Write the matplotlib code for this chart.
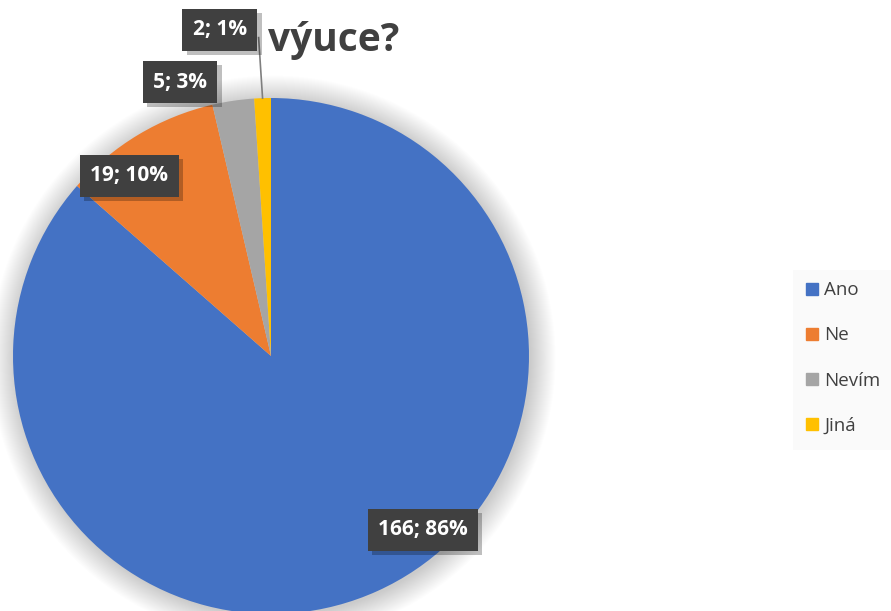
import numpy as np
import matplotlib
matplotlib.use("Agg")
import matplotlib.pyplot as plt
import matplotlib.patheffects as pe
from matplotlib.patches import Circle, Rectangle, Patch

categories = ["Ano", "Ne", "Nevím", "Jiná"]
counts = [166, 19, 5, 2]
percent_labels = ["86%", "10%", "3%", "1%"]
colors = ["#4472C4", "#ED7D31", "#A5A5A5", "#FFC000"]
title_text = "výuce?"

# label placement (x, y in pie-radius units) - layout only
label_pos = [(0.589, -0.674), (-0.550, 0.698), (-0.353, 1.062), (-0.198, 1.264)]

plt.rcParams['font.family'] = ['Open Sans', 'DejaVu Sans']

W, H = 891, 611
fig = plt.figure(figsize=(W / 100, H / 100), dpi=100)
fig.patch.set_facecolor("white")

cx, cy, r = 271, 356, 258
ax = fig.add_axes([(cx - r) / W, (H - cy - r) / H, 2 * r / W, 2 * r / H])
ax.axis("off")

# soft shadow
for k in range(26):
    ax.add_patch(Circle((0.008, -0.008), 1 + 0.0038 * k, color="black",
                        alpha=0.009, lw=0, zorder=0, clip_on=False))

wedges, _ = ax.pie(counts, colors=colors, startangle=90, counterclock=False,
                   radius=1, wedgeprops=dict(linewidth=0), frame=False)
for w in wedges:
    w.set_zorder(1)
ax.set_xlim(-1, 1)
ax.set_ylim(-1, 1)
ax.set_aspect("auto")

total = sum(counts)
angles = []
start = 90.0
for c in counts:
    sweep = c / total * 360
    angles.append(np.deg2rad(start - sweep / 2))
    start -= sweep

# leader line for the smallest slice
a = angles[3]
lx, ly = label_pos[3]
ax.plot([lx + 0.15, np.cos(a)], [ly - 0.03, np.sin(a)], color="#7F7F7F",
        lw=1.2, zorder=2, clip_on=False)

for i, (c, p) in enumerate(zip(counts, percent_labels)):
    x, y = label_pos[i]
    t = ax.text(x, y, f"{c}; {p}", ha="center", va="center", fontsize=15,
                fontweight="bold", color="white", zorder=4, clip_on=False,
                bbox=dict(boxstyle="square,pad=0.5", fc="#404040", ec="none"))
    t.get_bbox_patch().set_path_effects(
        [pe.SimplePatchShadow(offset=(3, -3), shadow_rgbFace="black", alpha=0.25), pe.Normal()])

fig.text(334 / W, 1 - 41 / H, title_text, ha="center", va="center", fontsize=28,
         fontweight="bold", color="#404040")

# legend
fig.patches.append(Rectangle((793 / W, 1 - 450 / H), 100 / W, 180 / H,
                             transform=fig.transFigure, fc="#FAFAFA", ec="none", zorder=0))
handles = [Patch(color=col) for col in colors]
fig.legend(handles, categories, loc="center left", bbox_to_anchor=(797 / W, 1 - 358 / H),
           frameon=False, fontsize=13.5, handlelength=0.6, handleheight=0.6,
           handletextpad=0.35, labelspacing=1.45, labelcolor="#404040", borderpad=0)

fig.savefig("out.png", dpi=100, facecolor="white")
